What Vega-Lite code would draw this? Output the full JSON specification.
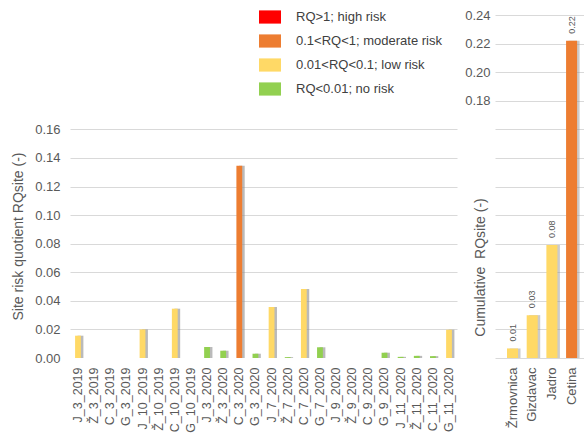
{
  "$schema": "https://vega.github.io/schema/vega-lite/v6.json",
  "padding": {"left": 11, "top": 6, "right": 0, "bottom": 0},
  "background": "white",
  "bounds": "flush",
  "spacing": 38,
  "config": {
    "font": "Liberation Sans",
    "view": {"stroke": null},
    "axis": {
      "labelColor": "#595959",
      "titleColor": "#595959",
      "labelFontSize": 13,
      "titleFontSize": 14,
      "titleFontWeight": "normal",
      "domain": false,
      "ticks": false,
      "gridColor": "#d9d9d9",
      "gridWidth": 1
    }
  },
  "resolve": {"legend": {"color": "independent"}},
  "datasets": {
    "site": [
      {"s": "J_3_2019", "v": 0.0156, "risk": "0.01<RQ<0.1; low risk"},
      {"s": "Ž_3_2019", "v": 0, "risk": "RQ<0.01; no risk"},
      {"s": "C_3_2019", "v": 0, "risk": "RQ<0.01; no risk"},
      {"s": "G_3_2019", "v": 0, "risk": "RQ<0.01; no risk"},
      {"s": "J_10_2019", "v": 0.0200, "risk": "0.01<RQ<0.1; low risk"},
      {"s": "Ž_10_2019", "v": 0, "risk": "RQ<0.01; no risk"},
      {"s": "C_10_2019", "v": 0.0345, "risk": "0.01<RQ<0.1; low risk"},
      {"s": "G_10_2019", "v": 0, "risk": "RQ<0.01; no risk"},
      {"s": "J_3_2020", "v": 0.0077, "risk": "RQ<0.01; no risk"},
      {"s": "Ž_3_2020", "v": 0.0051, "risk": "RQ<0.01; no risk"},
      {"s": "C_3_2020", "v": 0.1345, "risk": "0.1<RQ<1; moderate risk"},
      {"s": "G_3_2020", "v": 0.0030, "risk": "RQ<0.01; no risk"},
      {"s": "J_7_2020", "v": 0.0357, "risk": "0.01<RQ<0.1; low risk"},
      {"s": "Ž_7_2020", "v": 0.0006, "risk": "RQ<0.01; no risk"},
      {"s": "C_7_2020", "v": 0.0483, "risk": "0.01<RQ<0.1; low risk"},
      {"s": "G_7_2020", "v": 0.0075, "risk": "RQ<0.01; no risk"},
      {"s": "J_9_2020", "v": 0, "risk": "RQ<0.01; no risk"},
      {"s": "Ž_9_2020", "v": 0, "risk": "RQ<0.01; no risk"},
      {"s": "C_9_2020", "v": 0, "risk": "RQ<0.01; no risk"},
      {"s": "G_9_2020", "v": 0.0037, "risk": "RQ<0.01; no risk"},
      {"s": "J_11_2020", "v": 0.0008, "risk": "RQ<0.01; no risk"},
      {"s": "Ž_11_2020", "v": 0.0015, "risk": "RQ<0.01; no risk"},
      {"s": "C_11_2020", "v": 0.0013, "risk": "RQ<0.01; no risk"},
      {"s": "G_11_2020", "v": 0.0198, "risk": "0.01<RQ<0.1; low risk"}
    ],
    "cum": [
      {"s": "Žrmovnica", "v": 0.0067, "risk": "0.01<RQ<0.1; low risk"},
      {"s": "Gizdavac", "v": 0.0300, "risk": "0.01<RQ<0.1; low risk"},
      {"s": "Jadro", "v": 0.0790, "risk": "0.01<RQ<0.1; low risk"},
      {"s": "Cetina", "v": 0.2220, "risk": "0.1<RQ<1; moderate risk"}
    ]
  },
  "hconcat": [
    {
      "width": 387,
      "height": 343,
      "data": {"name": "site"},
      "encoding": {
        "x": {
          "field": "s", "type": "nominal", "sort": null, "title": null,
          "scale": {"paddingInner": 0.64, "paddingOuter": 0.315},
          "axis": {"labelAngle": -90, "labelPadding": 9, "labelFontSize": 12.5, "grid": false}
        },
        "y": {
          "field": "v", "type": "quantitative",
          "scale": {"domain": [0, 0.24], "nice": false},
          "axis": {
            "title": "Site risk quotient RQsite (-)",
            "values": [0, 0.02, 0.04, 0.06, 0.08, 0.10, 0.12, 0.14, 0.16],
            "format": ".2f",
            "labelPadding": 10,
            "titleX": -52,
            "titleY": 221,
            "titleBaseline": "middle",
            "gridOpacity": {"condition": {"test": "datum.value === 0", "value": 0}, "value": 1}
          }
        }
      },
      "layer": [
        {"mark": {"type": "bar", "color": "#8c8c8c", "opacity": 0.6, "xOffset": 2.5}},
        {
          "mark": {"type": "bar"},
          "encoding": {
            "color": {
              "field": "risk", "type": "nominal",
              "scale": {
                "domain": ["RQ>1; high risk", "0.1<RQ<1; moderate risk", "0.01<RQ<0.1; low risk", "RQ<0.01; no risk"],
                "range": ["#FF0000", "#ED7D31", "#FFD966", "#92D050"]
              },
              "legend": {
                "orient": "none", "legendX": 189, "legendY": -9, "title": null,
                "symbolType": "M-1,-0.6H1V0.6H-1Z", "symbolSize": 484,
                "symbolStrokeWidth": 0, "symbolOpacity": 1,
                "labelFontSize": 13, "labelColor": "#404040",
                "rowPadding": 6, "labelOffset": 15, "padding": 0
              }
            }
          }
        }
      ]
    },
    {
      "width": 89,
      "height": 343,
      "data": {"name": "cum"},
      "encoding": {
        "x": {
          "field": "s", "type": "nominal", "sort": null, "title": null,
          "scale": {"paddingInner": 0.44, "paddingOuter": 0.48, "align": 0.635},
          "axis": {"labelAngle": -90, "labelPadding": 9, "grid": false}
        },
        "y": {
          "field": "v", "type": "quantitative",
          "scale": {"domain": [0, 0.24], "nice": false},
          "axis": {
            "title": "Cumulative \u00a0RQsite (-)",
            "values": [0, 0.02, 0.04, 0.06, 0.08, 0.10, 0.12, 0.14, 0.16, 0.18, 0.20, 0.22, 0.24],
            "format": ".2f",
            "labelExpr": "datum.value > 0.17 ? datum.label : ''",
            "labelPadding": 5,
            "titleX": -15,
            "titleY": 252,
            "titleBaseline": "middle"
          }
        }
      },
      "layer": [
        {"mark": {"type": "bar", "color": "#8c8c8c", "opacity": 0.45, "xOffset": 2.5}},
        {
          "mark": {"type": "bar"},
          "encoding": {
            "color": {"field": "risk", "type": "nominal", "legend": null}
          }
        },
        {
          "mark": {"type": "text", "angle": 270, "align": "left", "baseline": "middle", "dx": 7, "fontSize": 9, "color": "#595959"},
          "encoding": {"text": {"field": "v", "type": "quantitative", "format": ".2f"}}
        }
      ]
    }
  ]
}
